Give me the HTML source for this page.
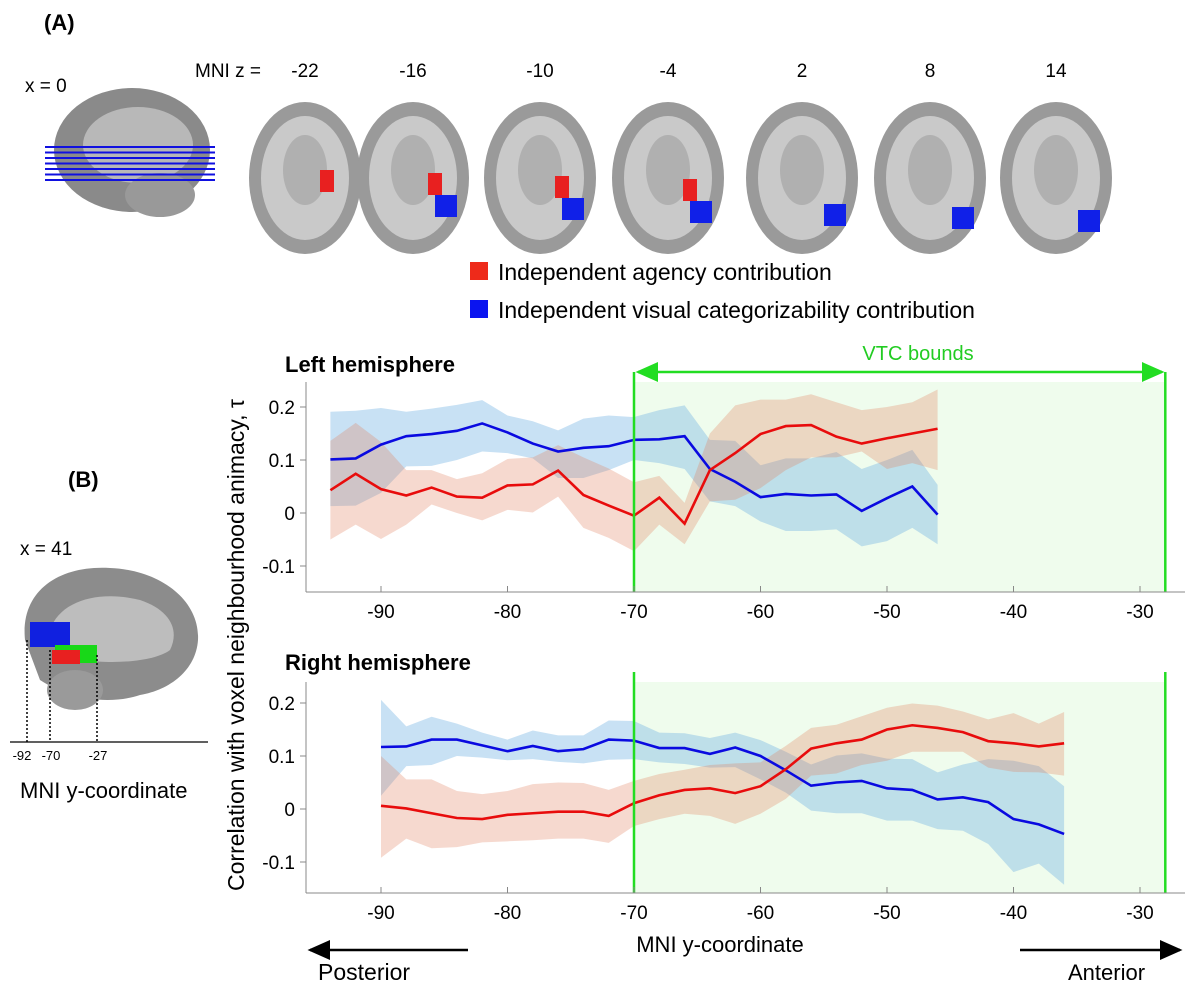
<!DOCTYPE html>
<html><head><meta charset="utf-8"><style>
body{margin:0;background:#fff;width:1200px;height:989px;overflow:hidden;font-family:"Liberation Sans",Arial,sans-serif}
svg{position:absolute;left:0;top:0}
</style></head><body>
<svg id="s" width="1200" height="989" xmlns="http://www.w3.org/2000/svg" font-family="Liberation Sans, Arial, sans-serif">
<g>
<text x="44" y="30" font-size="22" font-weight="bold">(A)</text>
<text x="25" y="92" font-size="19">x = 0</text>
<ellipse cx="132" cy="150" rx="78" ry="62" fill="#8a8a8a"/>
<ellipse cx="138" cy="145" rx="55" ry="38" fill="#b8b8b8"/>
<ellipse cx="160" cy="195" rx="35" ry="22" fill="#999"/>
<g id="zlines"></g>
<text x="195" y="77" font-size="19">MNI z =</text>
<g id="slices"></g>
<rect x="470" y="262" width="18" height="18" fill="#ee2a1a"/>
<text x="498" y="280" font-size="23">Independent agency contribution</text>
<rect x="470" y="300" width="18" height="18" fill="#0a14f0"/>
<text x="498" y="318" font-size="23">Independent visual categorizability contribution</text>
</g>
<g>
<text x="68" y="487" font-size="22" font-weight="bold">(B)</text>
<text x="20" y="555" font-size="19">x = 41</text>
<path d="M25,640 C20,590 60,565 110,568 C160,570 200,600 198,640 C196,670 170,690 140,695 C110,705 70,700 40,680 Z" fill="#8c8c8c"/>
<path d="M50,630 C60,600 100,590 140,600 C170,610 180,630 170,650 C150,665 90,665 60,655 Z" fill="#bdbdbd"/>
<ellipse cx="75" cy="690" rx="28" ry="20" fill="#9a9a9a"/>
<rect x="30" y="622" width="40" height="25" fill="#1020e0"/>
<rect x="55" y="645" width="42" height="18" fill="#18d818"/>
<rect x="52" y="650" width="28" height="14" fill="#e82020"/>
<g stroke="#000" stroke-dasharray="2,2" stroke-width="1.5">
<line x1="27" y1="640" x2="27" y2="742"/><line x1="50" y1="650" x2="50" y2="742"/><line x1="97" y1="655" x2="97" y2="742"/></g>
<line x1="10" y1="742" x2="208" y2="742" stroke="#000" stroke-width="1.2"/>
<g font-size="13" text-anchor="middle"><text x="22" y="760">-92</text><text x="51" y="760">-70</text><text x="98" y="760">-27</text></g>
<text x="20" y="798" font-size="22">MNI y-coordinate</text>
</g>
<g id="charts"></g>
</svg>
<script>
// Left hemisphere data (x from -94 to -46 step 2)
const leftX=[-94,-92,-90,-88,-86,-84,-82,-80,-78,-76,-74,-72,-70,-68,-66,-64,-62,-60,-58,-56,-54,-52,-50,-48,-46];
const leftBlue=[0.101,0.103,0.129,0.145,0.149,0.155,0.169,0.152,0.131,0.116,0.123,0.126,0.138,0.139,0.145,0.083,0.059,0.030,0.036,0.033,0.035,0.004,0.028,0.050,-0.003];
const leftBlueHi=[0.191,0.193,0.198,0.191,0.197,0.204,0.213,0.184,0.173,0.156,0.178,0.184,0.181,0.194,0.203,0.138,0.136,0.090,0.103,0.103,0.115,0.083,0.100,0.119,0.053];
const leftBlueLo=[0.013,0.014,0.038,0.088,0.089,0.100,0.116,0.113,0.103,0.066,0.066,0.081,0.100,0.094,0.083,0.022,0.013,-0.016,-0.034,-0.034,-0.031,-0.063,-0.053,-0.028,-0.059];
const leftRed=[0.043,0.074,0.045,0.033,0.048,0.031,0.029,0.052,0.054,0.080,0.034,0.014,-0.005,0.029,-0.020,0.081,0.113,0.149,0.164,0.166,0.144,0.131,0.141,0.150,0.159];
const leftRedHi=[0.136,0.170,0.134,0.081,0.081,0.064,0.075,0.102,0.105,0.128,0.105,0.084,0.058,0.070,0.019,0.150,0.203,0.214,0.214,0.224,0.209,0.194,0.200,0.209,0.233];
const leftRedLo=[-0.050,-0.022,-0.049,-0.022,0.016,0.000,-0.014,0.006,0.001,0.031,-0.028,-0.047,-0.072,-0.022,-0.059,0.022,0.025,0.047,0.081,0.105,0.105,0.116,0.083,0.094,0.081];
// Right hemisphere data (x from -90 to -36 step 2)
const rightX=[-90,-88,-86,-84,-82,-80,-78,-76,-74,-72,-70,-68,-66,-64,-62,-60,-58,-56,-54,-52,-50,-48,-46,-44,-42,-40,-38,-36];
const rightBlue=[0.117,0.118,0.131,0.131,0.120,0.109,0.119,0.109,0.113,0.131,0.129,0.115,0.115,0.104,0.116,0.100,0.073,0.044,0.050,0.053,0.039,0.036,0.018,0.022,0.013,-0.019,-0.029,-0.047];
const rightBlueHi=[0.206,0.156,0.174,0.161,0.144,0.131,0.148,0.139,0.139,0.167,0.166,0.144,0.143,0.134,0.144,0.130,0.108,0.084,0.101,0.105,0.095,0.094,0.069,0.084,0.094,0.091,0.081,0.043];
const rightBlueLo=[0.025,0.081,0.083,0.100,0.097,0.092,0.094,0.089,0.086,0.093,0.094,0.088,0.085,0.078,0.079,0.056,0.031,-0.003,-0.008,-0.008,-0.022,-0.022,-0.038,-0.041,-0.066,-0.119,-0.103,-0.143];
const rightRed=[0.006,0.001,-0.008,-0.017,-0.019,-0.011,-0.008,-0.005,-0.005,-0.013,0.011,0.026,0.036,0.039,0.030,0.043,0.075,0.114,0.124,0.131,0.150,0.158,0.153,0.145,0.128,0.124,0.118,0.124];
const rightRedHi=[0.100,0.056,0.056,0.034,0.028,0.034,0.047,0.050,0.049,0.036,0.053,0.066,0.074,0.083,0.086,0.088,0.119,0.153,0.159,0.175,0.191,0.199,0.195,0.184,0.169,0.181,0.161,0.183];
const rightRedLo=[-0.092,-0.056,-0.074,-0.072,-0.063,-0.061,-0.059,-0.056,-0.056,-0.064,-0.032,-0.019,-0.009,-0.013,-0.028,-0.009,0.019,0.063,0.067,0.083,0.091,0.108,0.108,0.108,0.078,0.070,0.069,0.063];
const xTicks=[-90,-80,-70,-60,-50,-40,-30];
const yTicks=[0.2,0.1,0,-0.1];
const yTickLabels=["0.2","0.1","0","-0.1"];
const zLabels=["-22","-16","-10","-4","2","8","14"];
const vtcBounds=[-70,-28];

const NS="http://www.w3.org/2000/svg";
function mk(tag,attrs,parent){const e=document.createElementNS(NS,tag);for(const k in attrs)e.setAttribute(k,attrs[k]);parent.appendChild(e);return e;}
const sx=v=>634+(v+70)*12.65;
const L=306,R=1185;

const sl=document.getElementById('slices');
zLabels.forEach((z,i)=>{const cx=[305,413,540,668,802,930,1056][i];
 const t=mk('text',{x:cx,y:77,'font-size':19,'text-anchor':'middle'},sl);t.textContent=z;
 
 const e=mk('ellipse',{cx:cx,cy:178,rx:56,ry:76,fill:'#9a9a9a'},sl);
 
 mk('ellipse',{cx:cx,cy:178,rx:44,ry:62,fill:'#c9c9c9'},sl);
 mk('ellipse',{cx:cx,cy:170,rx:22,ry:35,fill:'#b0b0b0'},sl);
 if(i<4){mk('rect',{x:cx+15,y:170+i*3,width:14,height:22,fill:'#e82020'},sl);}
 if(i>0){mk('rect',{x:cx+22,y:192+i*3,width:22,height:22,fill:'#1020e8'},sl);}
});
const zl=document.getElementById('zlines');
for(let k=0;k<7;k++)mk('line',{x1:45,x2:215,y1:147+k*5.5,y2:147+k*5.5,stroke:'#1010e0','stroke-width':2},zl);

const ch=document.getElementById('charts');
function panel(name,top,bottom,zeroY,X,B,BH,BL,Rd,RH,RL){
 const sy=v=>zeroY-v*530;
 const g=mk('g',{},ch);
 mk('rect',{x:sx(vtcBounds[0]),y:top,width:sx(vtcBounds[1])-sx(vtcBounds[0]),height:bottom-top,fill:'#effced'},g);
 const band=(H,Lo,fill,nm)=>{let d='M'+X.map((x,i)=>sx(x)+','+sy(H[i])).join('L')+'L'+X.map((x,i)=>sx(x)+','+sy(Lo[i])).reverse().join('L')+'Z';
  const p=mk('path',{d:d,fill:fill},g);};
 band(BH,BL,'rgba(110,175,225,0.38)','visual-ci-band');
 band(RH,RL,'rgba(225,130,95,0.30)','agency-ci-band');
 const line=(Y,col,nm)=>{const p=mk('polyline',{points:X.map((x,i)=>sx(x)+','+sy(Y[i])).join(' '),fill:'none',stroke:col,'stroke-width':2.6},g);};
 line(B,'#0a0ae0','visual-line');line(Rd,'#e80c0c','agency-line');
 vtcBounds.forEach(v=>{const l=mk('line',{x1:sx(v),x2:sx(v),y1:top-10,y2:bottom,stroke:'#22dd22','stroke-width':2.5},g);});
 mk('line',{x1:L,x2:L,y1:top,y2:bottom,stroke:'#888','stroke-width':1},g);
 mk('line',{x1:L,x2:R,y1:bottom,y2:bottom,stroke:'#888','stroke-width':1},g);
 yTicks.forEach((v,i)=>{mk('line',{x1:L,x2:L-6,y1:sy(v),y2:sy(v),stroke:'#888'},g);
  const t=mk('text',{x:L-11,y:sy(v)+7,'font-size':19,'text-anchor':'end'},g);t.textContent=yTickLabels[i];
  });
 xTicks.forEach(v=>{mk('line',{x1:sx(v),x2:sx(v),y1:bottom,y2:bottom-6,stroke:'#888'},g);
  const t=mk('text',{x:sx(v),y:bottom+26,'font-size':19,'text-anchor':'middle'},g);t.textContent=v;
  });
}
panel('left-hemisphere-chart',382,592,513,leftX,leftBlue,leftBlueHi,leftBlueLo,leftRed,leftRedHi,leftRedLo);
panel('right-hemisphere-chart',682,893,809,rightX,rightBlue,rightBlueHi,rightBlueLo,rightRed,rightRedHi,rightRedLo);
</script>
<svg width="1200" height="989" xmlns="http://www.w3.org/2000/svg" font-family="Liberation Sans, Arial, sans-serif" style="pointer-events:none">
<defs><marker id="ag" markerWidth="10" markerHeight="10" refX="8" refY="5" orient="auto-start-reverse"><path d="M0,1 L9,5 L0,9 Z" fill="#22dd22"/></marker>
<marker id="ak" markerWidth="10" markerHeight="10" refX="8" refY="5" orient="auto-start-reverse"><path d="M0,1 L9,5 L0,9 Z" fill="#000"/></marker></defs>
<text x="285" y="372" font-size="22" font-weight="bold">Left hemisphere</text>
<text x="285" y="670" font-size="22" font-weight="bold">Right hemisphere</text>
<text x="918" y="360" font-size="20" fill="#22cc22" text-anchor="middle">VTC bounds</text>
<line x1="638" y1="372" x2="1162" y2="372" stroke="#22dd22" stroke-width="2.5" marker-start="url(#ag)" marker-end="url(#ag)"/>
<text transform="translate(244,645) rotate(-90)" font-size="23" text-anchor="middle">Correlation with voxel neighbourhood animacy, τ</text>
<text x="720" y="952" font-size="22" text-anchor="middle">MNI y-coordinate</text>
<line x1="468" y1="950" x2="310" y2="950" stroke="#000" stroke-width="2.5" marker-end="url(#ak)"/>
<text x="318" y="980" font-size="23">Posterior</text>
<line x1="1020" y1="950" x2="1180" y2="950" stroke="#000" stroke-width="2.5" marker-end="url(#ak)"/>
<text x="1068" y="980" font-size="22">Anterior</text>
</svg>
</body></html>
